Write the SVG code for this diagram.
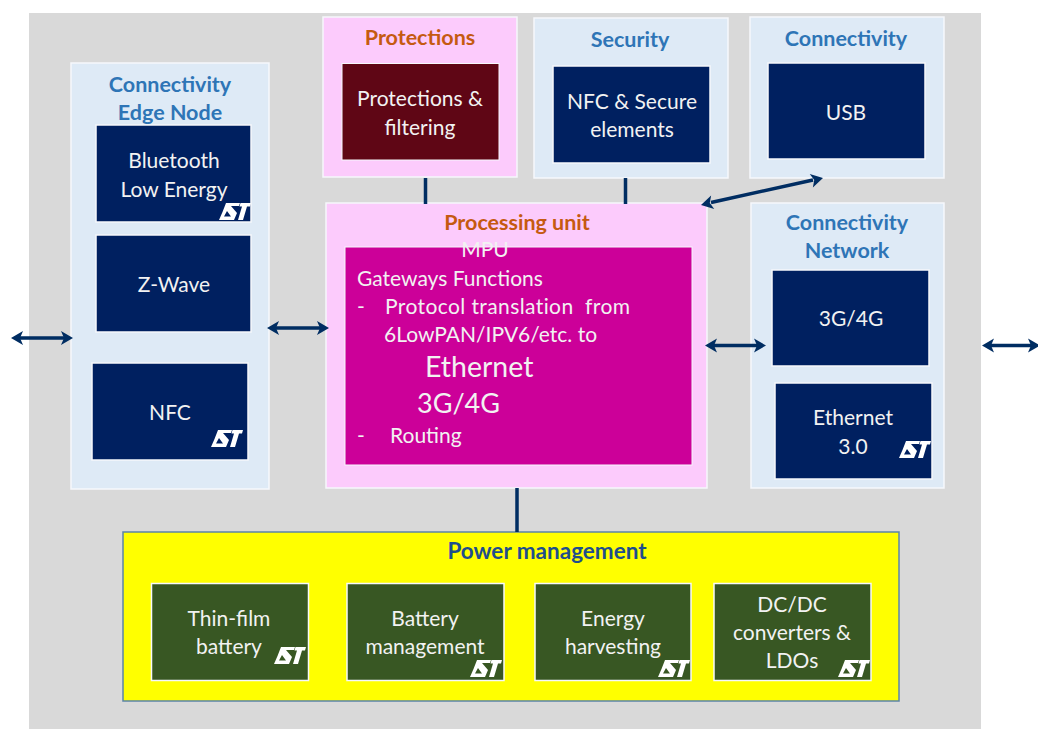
<svg xmlns="http://www.w3.org/2000/svg" width="1038" height="729" viewBox="0 0 1038 729">
<style>
text{font-family:Lato,"Liberation Sans",sans-serif;text-anchor:middle}
.w{fill:#f2f2f2;font-size:21px}
.l{text-anchor:start}
.big{font-size:28.500px}
.b{fill:#2e75b6;font-size:21.500px;font-weight:700}
.o{fill:#c55a11;font-size:21.500px;font-weight:700}
.s{stroke:#f6f8fc;stroke-width:1.500}
.lb{fill:#deeaf6}.pk{fill:#fccbfc}.nv{fill:#002060}.gr{fill:#385723}
.c{stroke:#002d62;stroke-width:3.500;fill:none}
.a{fill:#002d62}
</style>
<defs>
<g id="st"><path fill="#fff" fill-rule="evenodd" d="M7 0H21L20 3H12L18 10L15 17H0L3.500 9ZM5 13.500H12L8 8ZM21.500 0H32L31 3.500H28L24 17H19L23 3.500H20.500Z"/></g>
<g id="ah"><path class="a" d="M0 0L-12 -7L-9 0L-12 7Z"/></g>
</defs>
<rect width="1038" height="729" fill="#fff"/>
<rect x="29" y="13" width="952" height="716" fill="#d9d9d9"/>

<g id="edge-node">
<rect class="lb s" x="71" y="63" width="198" height="426"/>
<text class="b" x="170" y="92">Connectivity</text><text class="b" x="170" y="120">Edge Node</text>
</g>
<g id="bluetooth"><rect class="nv s" x="96" y="125" width="155" height="97"/>
<text class="w" x="174" y="168">Bluetooth</text><text class="w" x="174" y="197">Low Energy</text><use href="#st" x="219" y="203"/></g>
<g id="zwave"><rect class="nv s" x="96" y="235" width="155" height="97"/><text class="w" x="174" y="292">Z-Wave</text></g>
<g id="nfc"><rect class="nv s" x="92" y="363" width="156" height="97"/><text class="w" x="170" y="420">NFC</text><use href="#st" x="211" y="430"/></g>

<g id="protections">
<rect class="pk s" x="323" y="17" width="194" height="160"/>
<text class="o" x="420" y="45">Protections</text>
<rect x="342" y="63.500" width="157" height="96.500" fill="#5f0615" stroke="#f6f8fc"/>
<text class="w" x="420" y="106">Protections &amp;</text><text class="w" x="420" y="135">filtering</text>
</g>
<g id="security">
<rect class="lb s" x="534" y="18" width="194" height="160"/>
<text class="b" x="630" y="47">Security</text>
<rect class="nv s" x="553" y="66" width="157" height="97"/>
<text class="w" x="632" y="109">NFC &amp; Secure</text><text class="w" x="632" y="137">elements</text>
</g>
<g id="connectivity">
<rect class="lb s" x="750" y="17" width="194" height="161"/>
<text class="b" x="846" y="46">Connectivity</text>
<rect class="nv s" x="768" y="63" width="157" height="96"/>
<text class="w" x="846" y="120">USB</text>
</g>

<g id="processing">
<rect class="pk s" x="326" y="203" width="381" height="285"/>
<text class="o" x="517" y="230">Processing unit</text>
<rect x="345" y="247" width="347" height="218" fill="#cc0099" stroke="#f6f8fc"/>
<text class="w" x="485" y="257">MPU</text>
<text class="w l" x="357" y="286">Gateways Functions</text>
<text class="w l" x="357" y="314">-</text>
<text class="w l" x="385" y="314" xml:space="preserve" style="letter-spacing:.4px">Protocol translation  from</text>
<text class="w l" x="384" y="342">6LowPAN/IPV6/etc. to</text>
<text class="w l big" x="425" y="377">Ethernet</text>
<text class="w l big" x="417" y="413" style="font-size:27px">3G/4G</text>
<text class="w l" x="357" y="443">-</text>
<text class="w l" x="390" y="443">Routing</text>
</g>

<g id="network">
<rect class="lb s" x="751" y="203" width="193" height="285"/>
<text class="b" x="847" y="230">Connectivity</text><text class="b" x="847" y="258">Network</text>
</g>
<g id="g34"><rect class="nv s" x="772" y="270" width="157" height="96"/><text class="w" x="851" y="326">3G/4G</text></g>
<g id="ethernet"><rect class="nv s" x="775" y="383" width="157" height="96"/>
<text class="w" x="853" y="425">Ethernet</text><text class="w" x="853" y="454">3.0</text><use href="#st" x="899" y="441"/></g>

<g id="power">
<rect x="123" y="532" width="776" height="169" fill="#ffff00" stroke="#5b84a8" stroke-width="1.500"/>
<text x="547" y="559" style="fill:#1f4e8c;font-size:22.500px;font-weight:700">Power management</text>
</g>
<g id="thinfilm"><rect class="gr s" x="151.500" y="583.500" width="157" height="97"/>
<text class="w" x="229" y="626">Thin-film</text><text class="w" x="229" y="654">battery</text><use href="#st" x="274" y="647"/></g>
<g id="battery"><rect class="gr s" x="347" y="583.500" width="157" height="97"/>
<text class="w" x="425" y="626">Battery</text><text class="w" x="425" y="654">management</text><use href="#st" x="470" y="660"/></g>
<g id="energy"><rect class="gr s" x="535" y="583.500" width="156" height="97"/>
<text class="w" x="613" y="626">Energy</text><text class="w" x="613" y="654">harvesting</text><use href="#st" x="658" y="660"/></g>
<g id="dcdc"><rect class="gr s" x="714" y="583.500" width="157" height="97"/>
<text class="w" x="792" y="612">DC/DC</text><text class="w" x="792" y="640">converters &amp;</text><text class="w" x="792" y="668">LDOs</text><use href="#st" x="838" y="660"/></g>

<g id="connectors">
<path class="c" d="M425.500 178V204M625.500 178V204M517 488V532"/>
<path class="c" d="M20 338H64M276 328H320M714 345.500H758M991 345.500H1031M711 202.500L813 180"/>
<use href="#ah" transform="translate(73 338)"/><use href="#ah" transform="translate(11 338) rotate(180)"/>
<use href="#ah" transform="translate(329 328)"/><use href="#ah" transform="translate(267 328) rotate(180)"/>
<use href="#ah" transform="translate(766 345.500)"/><use href="#ah" transform="translate(705 345.500) rotate(180)"/>
<use href="#ah" transform="translate(1040 345.500)"/><use href="#ah" transform="translate(982 345.500) rotate(180)"/>
<use href="#ah" transform="translate(823 178) rotate(-13)"/><use href="#ah" transform="translate(701 205) rotate(167)"/>
</g>
</svg>
